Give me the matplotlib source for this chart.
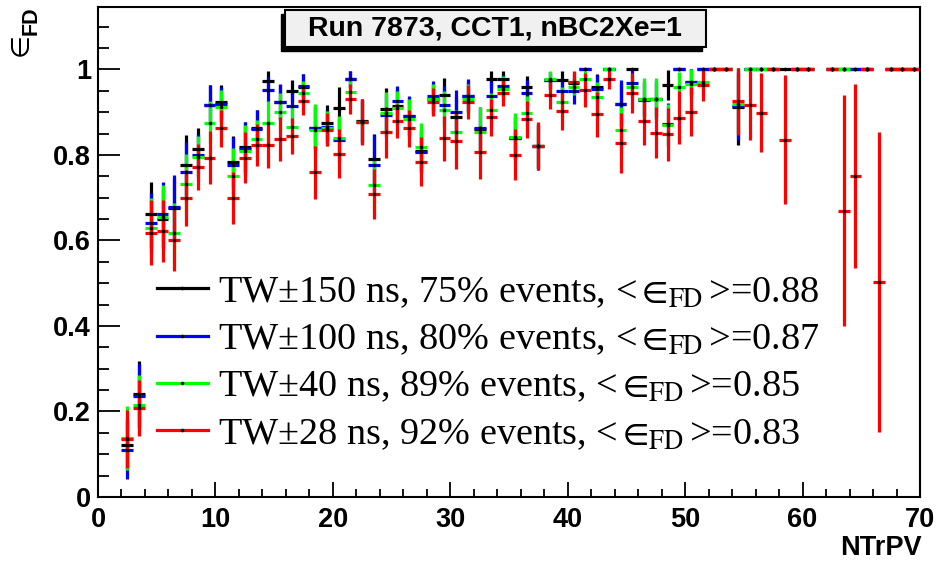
import matplotlib
matplotlib.use("Agg")
import matplotlib.pyplot as plt
from matplotlib.lines import Line2D
from matplotlib.patches import Rectangle
from matplotlib.ticker import MultipleLocator
import numpy as np

rc = {"font.family": "serif", "mathtext.fontset": "stix"}
plt.rcParams.update(rc)
plt.rcParams["font.serif"] = ["Liberation Serif", "DejaVu Serif"]

nan = np.nan

# bin centres of NTrPV (bins of width 1)
bins = np.arange(2.5, 70.0, 1.0)

eff_150 = [0.122, 0.241, 0.661, 0.651, 0.675, 0.776, 0.815, 0.916, 0.924, 0.784,
           0.819, 0.862, 0.973, 0.924, 0.949, 0.960, 0.864, 0.875, 0.909, 0.977,
           0.880, 0.790, 0.907, 0.915, 0.890, 0.810, 0.930, 0.940, 0.888, 0.938,
           0.860, 0.977, 0.977, 0.840, 0.958, 0.820, 0.975, 0.975, 0.969, 1.000,
           0.960, 1.000, 0.918, 1.000, 0.930, 0.930, 0.963, 1.000, 0.970, 1.000,
           1, 1, 0.913, 1, 1, 1, 1, 1, 1, nan, 1, 1, 1, 1, nan, 1, 1, 1]
err_150 = [0.06, 0.077, 0.076, 0.07, 0.07, 0.07, 0.049, 0.047, 0.04, 0.06,
           0.058, 0.043, 0.024, 0.04, 0.026, 0.03, 0.05, 0.041, 0.05, 0.02,
           0.05, 0.06, 0.05, 0.04, 0.045, 0.05, 0.035, 0.04, 0.05, 0.035,
           0.05, 0.02, 0.02, 0.05, 0.026, 0.05, 0.02, 0.022, 0.025, 0,
           0.03, 0, 0.05, 0, 0.04, 0.04, 0.035, 0, 0.03, 0,
           0, 0, 0.09, 0, 0, 0, 0, 0, 0, nan, 0, 0, 0, 0, nan, 0, 0, 0]

eff_100 = [0.110, 0.236, 0.641, 0.661, 0.678, 0.760, 0.799, 0.916, 0.920, 0.776,
           0.815, 0.860, 0.953, 0.924, 0.914, 0.961, 0.864, 0.865, 0.834, 0.977,
           0.877, 0.776, 0.893, 0.926, 0.891, 0.807, 0.938, 0.916, 0.901, 0.937,
           0.862, 0.937, 0.961, 0.839, 0.946, 0.820, 0.975, 0.950, 0.950, 1.000,
           0.955, 1.000, 0.920, 0.969, 0.928, 0.930, 0.872, 1.000, 0.970, 1.000,
           1, 1, 0.915, 1, 1, 1, nan, 1, 1, nan, 1, 1, 1, 1, nan, 1, 1, 1]
err_100 = [0.067, 0.075, 0.07, 0.076, 0.074, 0.07, 0.05, 0.047, 0.04, 0.066,
           0.062, 0.045, 0.03, 0.043, 0.04, 0.028, 0.05, 0.04, 0.05, 0.02,
           0.052, 0.07, 0.05, 0.035, 0.047, 0.05, 0.035, 0.045, 0.052, 0.04,
           0.05, 0.035, 0.025, 0.05, 0.03, 0.055, 0.02, 0.03, 0.03, 0,
           0.032, 0, 0.055, 0.03, 0.045, 0.045, 0.05, 0, 0.03, 0,
           0, 0, 0.08, 0, 0, 0, nan, 0, 0, nan, 0, 0, 0, 0, nan, 0, 0, 0]

eff_40 = [0.138, 0.215, 0.630, 0.655, 0.618, 0.733, 0.795, 0.875, 0.913, 0.751,
          0.810, 0.837, 0.875, 0.900, 0.866, 0.944, 0.858, 0.862, 0.840, 0.948,
          0.877, 0.729, 0.897, 0.910, 0.885, 0.818, 0.930, 0.905, 0.854, 0.930,
          0.854, 0.905, 0.955, 0.843, 0.897, 0.820, 0.977, 0.924, 0.960, 0.977,
          0.936, 1.000, 0.858, 0.960, 0.932, 0.932, 0.870, 0.958, 0.965, 0.970,
          1, 1, 0.92, 1, 1, 1, nan, 1, 1, nan, 1, 1, nan, 1, nan, 1, 1, 1]
err_40 = [0.074, 0.07, 0.07, 0.074, 0.07, 0.07, 0.05, 0.05, 0.04, 0.065,
          0.06, 0.045, 0.05, 0.045, 0.045, 0.03, 0.062, 0.04, 0.05, 0.03,
          0.05, 0.06, 0.05, 0.04, 0.045, 0.056, 0.037, 0.045, 0.05, 0.035,
          0.058, 0.04, 0.03, 0.056, 0.04, 0.05, 0.02, 0.035, 0.02, 0.02,
          0.035, 0, 0.055, 0.03, 0.047, 0.047, 0.05, 0.035, 0.035, 0.03,
          0, 0, 0.07, 0, 0, 0, nan, 0, 0, nan, 0, 0, nan, 0, nan, 0, 0, 0]

eff_28 = [0.136, 0.208, 0.618, 0.622, 0.601, 0.699, 0.772, 0.794, 0.862, 0.699,
          0.794, 0.824, 0.823, 0.837, 0.845, 0.927, 0.759, 0.859, 0.803, 0.930,
          0.877, 0.708, 0.853, 0.880, 0.862, 0.784, 0.924, 0.839, 0.832, 0.924,
          0.806, 0.888, 0.946, 0.801, 0.883, 0.820, 0.940, 0.903, 0.971, 0.952,
          0.895, 0.977, 0.827, 0.944, 0.879, 0.852, 0.848, 0.887, 0.901, 0.963,
          1, 1, 0.925, 0.916, 0.899, 1, 0.836, 1, 1, nan, 1, 0.670, 0.750, 1, 0.503, 1, 1, 1]
err_28 = [0.068, 0.065, 0.076, 0.073, 0.072, 0.066, 0.053, 0.063, 0.043, 0.06,
          0.06, 0.049, 0.053, 0.052, 0.042, 0.033, 0.062, 0.039, 0.058, 0.035,
          0.053, 0.058, 0.06, 0.04, 0.044, 0.057, 0.033, 0.053, 0.066, 0.039,
          0.062, 0.043, 0.031, 0.06, 0.043, 0.056, 0.033, 0.045, 0.025, 0.04,
          0.053, 0.023, 0.07, 0.047, 0.055, 0.06, 0.062, 0.062, 0.057, 0.036,
          0, 0, 0.078, 0.08, 0.093, 0, 0.15, 0, 0, nan, 0, 0.27, 0.215, 0, 0.35, 0, 0, 0]

labels = ["TW±150 ns, 75% events, <$\\,∈_{\\rm FD}\\,$>=0.88",
          "TW±100 ns, 80% events, <$\\,∈_{\\rm FD}\\,$>=0.87",
          "TW±40 ns, 89% events, <$\\,∈_{\\rm FD}\\,$>=0.85",
          "TW±28 ns, 92% events, <$\\,∈_{\\rm FD}\\,$>=0.83"]
colors = ["#000000", "#0000ff", "#00ff00", "#ff0000"]

x_ticks = [0, 10, 20, 30, 40, 50, 60, 70]
x_ticklabels = ["0", "10", "20", "30", "40", "50", "60", "70"]
y_ticks = [0, 0.2, 0.4, 0.6, 0.8, 1.0]
y_ticklabels = ["0", "0.2", "0.4", "0.6", "0.8", "1"]

title = "Run 7873, CCT1, nBC2Xe=1"

fig = plt.figure(figsize=(9.37, 5.65), dpi=100)
ax = fig.add_axes([98 / 937, 1 - 497 / 565, 822 / 937, 490 / 565])

series = [(eff_150, err_150), (eff_100, err_100), (eff_40, err_40), (eff_28, err_28)]
handles = []
for (vals, errs), c in zip(series, colors):
    ax.errorbar(bins, vals, xerr=0.5, yerr=errs, fmt="o", ms=1.6,
                mfc="k", mec="k", ecolor=c, elinewidth=2.3, capsize=0)
    handles.append(Line2D([], [], color=c, lw=2.3, marker="o", ms=1.6,
                          mfc="k", mec="k"))

ax.set_xlim(0, 70)
ax.set_ylim(0, 1.146)

sans = dict(fontfamily="Liberation Sans", fontweight="bold", fontsize=19.5)
ax.set_xticks(x_ticks)
ax.set_xticklabels(x_ticklabels, **sans)
ax.set_yticks(y_ticks)
ax.set_yticklabels(y_ticklabels, **sans)
ax.xaxis.set_minor_locator(MultipleLocator(2))
ax.yaxis.set_minor_locator(MultipleLocator(0.05))
ax.tick_params(axis="x", which="major", direction="in", length=11, width=1.3, pad=7)
ax.tick_params(axis="x", which="minor", direction="in", length=6, width=1.3)
ax.tick_params(axis="y", which="major", direction="in", length=16, width=1.3, pad=5)
ax.tick_params(axis="y", which="minor", direction="in", length=8, width=1.3)
for sp in ax.spines.values():
    sp.set_linewidth(1.5)

fig.text(922 / 937, 1 - 548 / 565, "NTrPV", ha="right", va="center", **sans)
# y axis title: epsilon_FD, rotated
fig.text(21 / 937, 1 - 45 / 565, "∈", rotation=90, ha="center", va="center",
         fontfamily="DejaVu Sans", fontsize=19)
fig.text(31.5 / 937, 1 - 21 / 565, "FD", rotation=90, ha="center", va="center",
         fontfamily="Liberation Sans", fontweight="bold", fontsize=15.5)

ax.legend(handles, labels, loc="upper left", bbox_to_anchor=(0.0718, 0.453),
          frameon=False, prop=dict(family="Liberation Serif", size=27.5),
          handlelength=1.33, handletextpad=0.26, labelspacing=0.33,
          borderpad=0, borderaxespad=0)

# title box with shadow
fig.patches.append(Rectangle((281 / 937, 1 - 51 / 565), 421 / 937, 37 / 565,
                             transform=fig.transFigure, fc="k", ec="k"))
fig.patches.append(Rectangle((285 / 937, 1 - 47 / 565), 421 / 937, 37 / 565,
                             transform=fig.transFigure, fc="#f0f0f0", ec="k", lw=1.5))
fig.text(495 / 937, 1 - 28.5 / 565, title, ha="center", va="center",
         fontfamily="Liberation Sans", fontweight="bold", fontsize=20.5)

plt.savefig("out.png", dpi=100)
